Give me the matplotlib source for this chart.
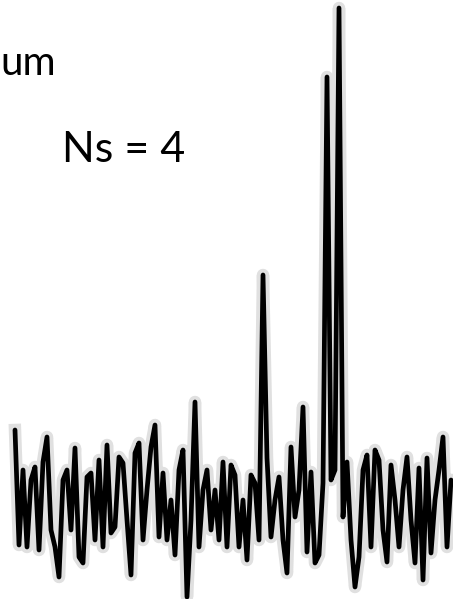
import matplotlib.pyplot as plt
import numpy as np

# intensitat de cada canal (linia base = 0)
intensitat = [80, -35, 40, -37, 30, 43, -40, 48, 73, -20,
              -37, -67, 30, 40, -20, 62, -47, -53, 33, 37,
              -30, 50, -37, 65, -23, -17, 53, 47, -10, -65,
              57, 67, -30, 20, 63, 85, -27, 37, -30, 10,
              -45, 40, 60, -87, -10, 108, -37, 20, 40, -20,
              20, -30, 48, -37, 45, 35, -37, 10, -50, 35,
              27, -30, 235, 52, -27, 10, 33, -30, -63, 63,
              -7, 20, 103, -42, 38, -53, -45, 27, 433, 30,
              40, 502, -7, 48, -30, -77, -47, 40, 55, -37,
              60, 50, -20, -52, 45, 10, -37, 20, 53, -10,
              -53, 42, -70, 52, -43, 10, 40, 73, -37, 30]
canal = np.arange(len(intensitat))

titol = "um"
etiqueta = "Ns = 4"

fig = plt.figure(figsize=(4.53, 5.99), dpi=100)
ax = fig.add_axes([0, 0, 1, 1])
# halo gris del paper escanejat
ax.plot(canal, intensitat, color="#999999", lw=9, alpha=0.3,
        solid_joinstyle="round")
ax.plot(canal, intensitat, color="black", lw=3.4, solid_joinstyle="round",
        solid_capstyle="round")
ax.set_xlim(-3.75, 109.5)
ax.set_ylim(-89, 510)
ax.axis("off")

fig.text(0.5 / 453, 1 - 75 / 599, titol, ha="left", va="baseline",
         fontsize=29, family="Lato", color="black")
fig.text(62 / 453, 1 - 162 / 599, etiqueta, ha="left", va="baseline",
         fontsize=31, family="Lato", color="black")

fig.savefig("out.png", dpi=100, facecolor="white")
